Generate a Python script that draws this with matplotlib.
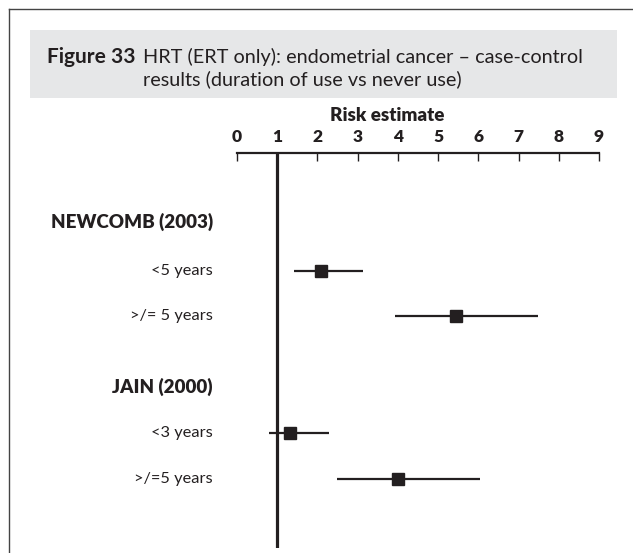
"""
Forest plot: HRT (ERT only) endometrial cancer, case-control results.
"""

import matplotlib
matplotlib.use("Agg")
import matplotlib.pyplot as plt
import matplotlib.transforms as mtransforms
from matplotlib.patches import Rectangle
from matplotlib.lines import Line2D

plt.rcParams["font.family"] = ["Lato", "DejaVu Sans"]

# ── Data ─────────────────────────────────────────────────────────
studies = ["NEWCOMB (2003)", "JAIN (2000)"]
row_labels = ["<5 years", ">/= 5 years", "<3 years", ">/=5 years"]
row_study = [0, 0, 1, 1]
estimates = [2.1, 5.45, 1.33, 4.0]
ci_low = [1.41, 3.93, 0.8, 2.48]
ci_high = [3.14, 7.49, 2.29, 6.04]
ticks = [0, 1, 2, 3, 4, 5, 6, 7, 8, 9]

# ── Layout (pixel rows, top-down) ────────────────────────────────
W, H = 633, 553
study_y = [222, 387]
row_y = [271, 316, 433, 479]
ink = "#231f20"

fig = plt.figure(figsize=(W / 100, H / 100), dpi=100)

# page frame (top and left edges only) and grey caption box
fig.add_artist(Line2D([9 / W, 1], [1 - 9 / H, 1 - 9 / H], color="#444444", lw=1.0))
fig.add_artist(Line2D([9 / W, 9 / W], [0, 1 - 9 / H], color="#444444", lw=1.0))
fig.add_artist(Rectangle((30 / W, 1 - 98 / H), (617 - 30) / W, (98 - 30) / H,
                         facecolor="#e6e7e8", edgecolor="none"))
fig.text(47 / W, 1 - 57 / H, "Figure 33", fontsize=15, fontweight="bold",
         color=ink, va="center", ha="left")
fig.text(143 / W, 1 - 57 / H, "HRT (ERT only): endometrial cancer – case-control",
         fontsize=14.3, color=ink, va="center", ha="left")
fig.text(143 / W, 1 - 79 / H, "results (duration of use vs never use)",
         fontsize=14.3, color=ink, va="center", ha="left")

# forest axes: x 0..9, y in pixel rows so layout is easy to read
ax = fig.add_axes([237 / W, 1 - 548 / H, (599 - 237) / W, (548 - 153) / H])
ax.set_xlim(0, 9)
ax.set_ylim(548, 153)
for s in ["left", "right", "bottom"]:
    ax.spines[s].set_visible(False)
ax.spines["top"].set_linewidth(1.6)
ax.spines["top"].set_color(ink)
ax.set_yticks([])
ax.set_xticks(ticks)
ax.set_xticklabels([str(t) for t in ticks], fontweight="heavy", fontsize=12.5, color=ink)
ax.xaxis.set_ticks_position("top")
ax.tick_params(axis="x", direction="in", length=6, width=1.0, color=ink, pad=6)
ax.set_xlabel("Risk estimate", fontweight="heavy", fontsize=13.5, color=ink)
ax.xaxis.set_label_position("top")
ax.xaxis.set_label_coords((387 - 237) / (599 - 237), (548 - 121) / (548 - 153))

# line of no effect
ax.axvline(1, color=ink, lw=2.3, zorder=1)

# intervals and point estimates
for est, lo, hi, y in zip(estimates, ci_low, ci_high, row_y):
    ax.plot([lo, hi], [y, y], color=ink, lw=1.6, solid_capstyle="butt", zorder=2)
    ax.plot(est, y, marker="s", markersize=8.6, color=ink, zorder=3)

# labels to the left of the plot
tr = mtransforms.blended_transform_factory(fig.transFigure, ax.transData)
for name, y in zip(studies, study_y):
    ax.text(213 / W, y, name, transform=tr, ha="right", va="center",
            fontsize=13.5, fontweight="heavy", color=ink, clip_on=False)
for lab, y in zip(row_labels, row_y):
    ax.text(213 / W, y, lab, transform=tr, ha="right", va="center",
            fontsize=11.8, color=ink, clip_on=False)

fig.savefig("out.png", dpi=100)
